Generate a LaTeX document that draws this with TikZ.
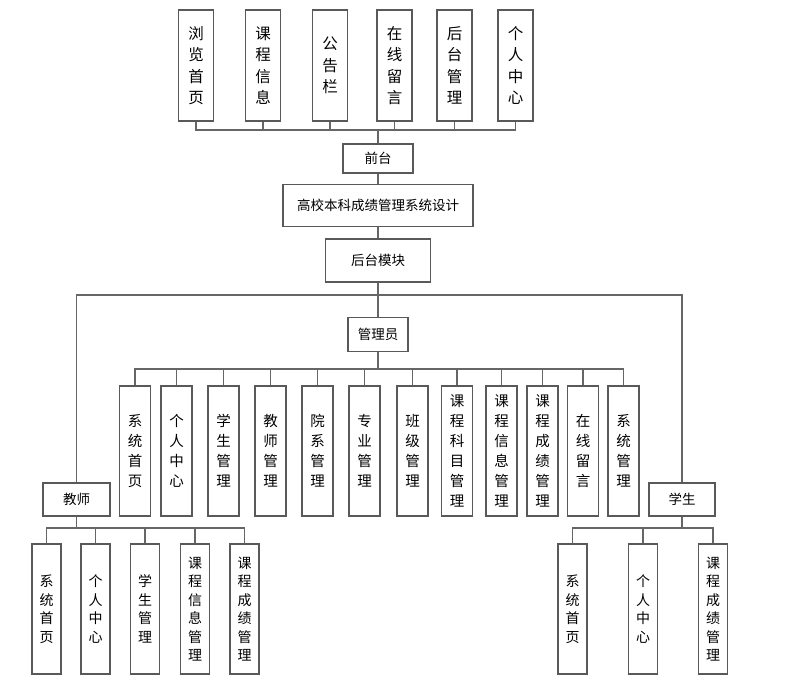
\documentclass[tikz,border=0pt]{standalone}
\usepackage{fontspec}
\setmainfont{Noto Sans CJK SC}
\usetikzlibrary{positioning}
\definecolor{boxgray}{HTML}{595959}
\definecolor{linkgray}{HTML}{666666}

\begin{document}
\begin{tikzpicture}
[x=1pt,y=-1pt,node distance=10pt,
 box/.style={draw=boxgray,line width=1.5pt,inner sep=0pt,align=center,fill=white},
 topbox/.style={box,minimum width=35pt,minimum height=111pt,font=\fontsize{15.5}{21.5}\selectfont},
 admbox/.style={box,minimum width=31pt,minimum height=130pt,font=\fontsize{14.5}{20}\selectfont},
 subbox/.style={box,minimum width=29pt,minimum height=130pt,font=\fontsize{14}{18.5}\selectfont},
 midbox/.style={box,font=\fontsize{13.5}{16}\selectfont},
 link/.style={draw=linkgray,line width=1.3pt}]
  \useasboundingbox (0,0) rectangle (796,684);
%
  \node[topbox] (t1) at (196,65.5) {浏\\览\\首\\页};
  \node[topbox] (t2) at (263,65.5) {课\\程\\信\\息};
  \node[topbox] (t3) at (330,65.5) {公\\告\\栏};
  \node[topbox] (t4) at (394.5,65.5) {在\\线\\留\\言};
  \node[topbox] (t5) at (454.5,65.5) {后\\台\\管\\理};
  \node[topbox] (t6) at (515.5,65.5) {个\\人\\中\\心};
%
  \node[midbox,minimum width=70pt,minimum height=29pt] (qt) at (378,158.5) {前台};
  \node[midbox,minimum width=190pt,minimum height=42pt] (sys) [below=of qt] {高校本科成绩管理系统设计};
  \node[midbox,minimum width=105pt,minimum height=43pt] (ht) [below=11pt of sys] {后台模块};
  \node[midbox,minimum width=60pt,minimum height=34pt] (gly) [below=34pt of ht] {管理员};
  \node[midbox,minimum width=67pt,minimum height=33pt] (js) at (76.5,499.5) {教师};
  \node[midbox,minimum width=66pt,minimum height=33pt] (xs) at (682,499.5) {学生};
%
  \node[admbox] (a1) at (135,451) {系\\统\\首\\页};
  \node[admbox] (a2) at (176.5,451) {个\\人\\中\\心};
  \node[admbox] (a3) at (223.5,451) {学\\生\\管\\理};
  \node[admbox] (a4) at (270.5,451) {教\\师\\管\\理};
  \node[admbox] (a5) at (317.5,451) {院\\系\\管\\理};
  \node[admbox] (a6) at (364.5,451) {专\\业\\管\\理};
  \node[admbox] (a7) at (412.5,451) {班\\级\\管\\理};
  \node[admbox] (a8) at (457,451) {课\\程\\科\\目\\管\\理};
  \node[admbox] (a9) at (501.5,451) {课\\程\\信\\息\\管\\理};
  \node[admbox] (a10) at (542.5,451) {课\\程\\成\\绩\\管\\理};
  \node[admbox] (a11) at (583,451) {在\\线\\留\\言};
  \node[admbox] (a12) at (623.5,451) {系\\统\\管\\理};
%
  \node[subbox] (c1) at (46.5,609) {系\\统\\首\\页};
  \node[subbox] (c2) at (95.5,609) {个\\人\\中\\心};
  \node[subbox] (c3) at (145,609) {学\\生\\管\\理};
  \node[subbox] (c4) at (195,609) {课\\程\\信\\息\\管\\理};
  \node[subbox] (c5) at (244.5,609) {课\\程\\成\\绩\\管\\理};
%
  \node[subbox] (s1) at (572.5,609) {系\\统\\首\\页};
  \node[subbox] (s2) at (643,609) {个\\人\\中\\心};
  \node[subbox] (s3) at (713,609) {课\\程\\成\\绩\\管\\理};
%
  \coordinate (tbus) at (378,130);
  \coordinate (mbus) at (378,295);
  \coordinate (abus) at (378,369);
  \coordinate (jbus) at (76.5,528);
  \coordinate (xbus) at (682,528);
%
  \draw[link] (t1.south) |- (tbus) (t2.south) |- (tbus) (t3.south) |- (tbus)
              (t4.south) |- (tbus) (t5.south) |- (tbus) (t6.south) |- (tbus);
  \draw[link] (tbus) -- (qt.north);
  \draw[link] (qt.south) -- (sys.north);
  \draw[link] (sys.south) -- (ht.north);
  \draw[link] (ht.south) -- (gly.north);
  \draw[link] (js.north) |- (mbus) -| (xs.north);
  \draw[link] (gly.south) -- (abus);
  \draw[link] (a1.north) |- (abus) (a2.north) |- (abus) (a3.north) |- (abus)
              (a4.north) |- (abus) (a5.north) |- (abus) (a6.north) |- (abus)
              (a7.north) |- (abus) (a8.north) |- (abus) (a9.north) |- (abus)
              (a10.north) |- (abus) (a11.north) |- (abus) (a12.north) |- (abus);
  \draw[link] (js.south) -- (jbus);
  \draw[link] (c1.north) |- (jbus) (c2.north) |- (jbus) (c3.north) |- (jbus)
              (c4.north) |- (jbus) (c5.north) |- (jbus);
  \draw[link] (xs.south) -- (xbus);
  \draw[link] (s1.north) |- (xbus) (s2.north) |- (xbus) (s3.north) |- (xbus);
\end{tikzpicture}
\end{document}
